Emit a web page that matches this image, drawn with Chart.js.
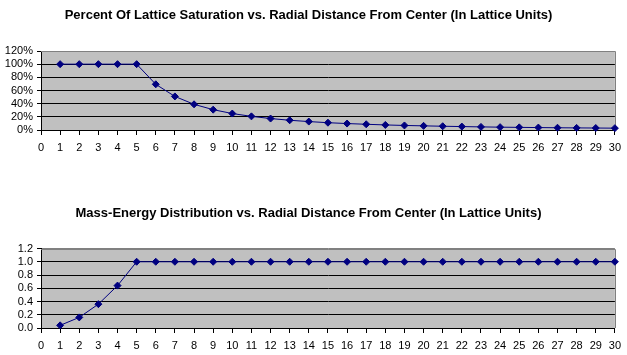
<!DOCTYPE html>
<html>
<head>
<meta charset="utf-8">
<script src="https://cdn.jsdelivr.net/npm/chart.js@4/dist/chart.umd.min.js"></script>
<style>
  html, body { margin:0; padding:0; background:#fff; }
  body { width:627px; height:355px; position:relative; overflow:hidden; }
  .box { position:absolute; left:0; width:627px; }
</style>
</head>
<body>
<div class="box" style="top:0;height:160px"><canvas id="c1"></canvas></div>
<div class="box" style="top:195px;height:160px"><canvas id="c2"></canvas></div>
<script>
// Data
const radius = [1,2,3,4,5,6,7,8,9,10,11,12,13,14,15,16,17,18,19,20,21,22,23,24,25,26,27,28,29,30];
const saturationPct = [100,100,100,100,100,69.4,51,39,30.9,25,20.7,17.4,14.8,12.8,11.1,9.8,8.7,7.7,6.9,6.3,5.7,5.2,4.7,4.3,4,3.7,3.4,3.2,3,2.8];
const massEnergy = [0.04,0.16,0.36,0.64,1,1,1,1,1,1,1,1,1,1,1,1,1,1,1,1,1,1,1,1,1,1,1,1,1,1];
const title1 = 'Percent Of Lattice Saturation vs. Radial Distance From Center (In Lattice Units)';
const title2 = 'Mass-Energy Distribution vs. Radial Distance From Center (In Lattice Units)';

const FONT = "'Liberation Sans', Arial, sans-serif";
const NAVY = '#000080';

const plotBg = {
  id: 'plotBg',
  beforeDraw(chart) {
    const {ctx, chartArea: a} = chart;
    ctx.save();
    ctx.fillStyle = '#C0C0C0';
    ctx.fillRect(a.left, a.top, a.right - a.left, a.bottom - a.top);
    ctx.restore();
  },
  beforeDatasetsDraw(chart) {
    const {ctx, chartArea: a} = chart;
    ctx.save();
    ctx.strokeStyle = '#808080';
    ctx.lineWidth = 1;
    ctx.beginPath();
    ctx.moveTo(a.left, Math.round(a.top) + 0.5);
    ctx.lineTo(Math.round(a.right) + 0.5, Math.round(a.top) + 0.5);
    ctx.lineTo(Math.round(a.right) + 0.5, a.bottom);
    ctx.stroke();
    ctx.restore();
  }
};

function makeChart(id, values, yMax, yStep, fmt, title, titlePad, yAxisW, xAxisH) {
  const pts = radius.map((r, i) => ({x: r, y: values[i]}));
  return new Chart(document.getElementById(id), {
    type: 'line',
    data: {
      datasets: [{
        data: pts,
        borderColor: NAVY,
        backgroundColor: NAVY,
        borderWidth: 1,
        pointStyle: 'rectRot',
        pointRadius: 3.5,
        pointBorderWidth: 1,
        pointBackgroundColor: NAVY,
        pointBorderColor: NAVY,
        tension: 0,
        clip: false
      }]
    },
    options: {
      responsive: true,
      maintainAspectRatio: false,
      animation: false,
      devicePixelRatio: 1,
      layout: { padding: { left: 0, right: 10, top: 0, bottom: 0 } },
      plugins: {
        legend: { display: false },
        tooltip: { enabled: false },
        title: {
          display: true,
          text: title,
          color: '#000',
          font: { family: FONT, size: 13, weight: 'bold', lineHeight: 1.2 },
          padding: titlePad
        }
      },
      scales: {
        x: {
          type: 'linear',
          min: 0, max: 30,
          afterFit(s) { s.height = xAxisH; },
          ticks: { stepSize: 1, color: '#000', padding: 6, maxRotation: 0, autoSkip: false,
                   font: { family: FONT, size: 11 } },
          grid: { drawOnChartArea: false, drawTicks: true, tickLength: 5, tickColor: '#000' },
          border: { color: '#000', width: 1 }
        },
        y: {
          min: 0, max: yMax,
          afterFit(s) { s.width = yAxisW; },
          ticks: { stepSize: yStep, color: '#000', padding: 4, autoSkip: false,
                   font: { family: FONT, size: 11 }, callback: fmt },
          grid: {
            color: (c) => (c.tick && c.tick.value >= yMax - 1e-9) ? '#808080' : '#000',
            tickColor: '#000', tickLength: 4, lineWidth: 1
          },
          border: { color: '#000', width: 1 }
        }
      }
    },
    plugins: [plotBg]
  });
}

makeChart('c1', saturationPct, 120, 20, v => Math.round(v) + '%', title1,
          { top: 8, bottom: 27.4 }, 41, 30);
makeChart('c2', massEnergy, 1.2, 0.2, v => Number(v).toFixed(1), title2,
          { top: 10.5, bottom: 27.4 }, 41, 27);
</script>
</body>
</html>
